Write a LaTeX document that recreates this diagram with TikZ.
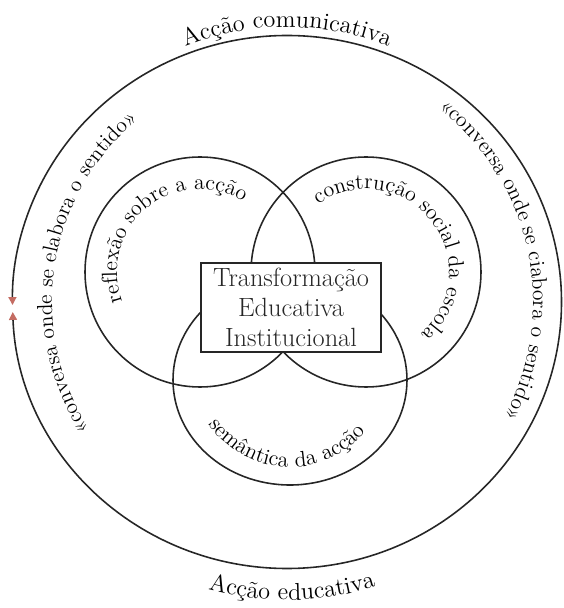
\documentclass[tikz,border=0pt]{standalone}
\usepackage{tikz}
\usetikzlibrary{arrows.meta,decorations.text}
\definecolor{setaV}{RGB}{196,108,98}
\colorlet{traco}{black!85}
\newcommand{\fonteA}{\fontsize{12.5}{14}\selectfont}
\newcommand{\fonteB}{\fontsize{12.3}{14}\selectfont}
\newcommand{\fonteC}{\fontsize{13.8}{16}\selectfont}
\newcommand{\rotuloArco}[5]{%
  \path[decorate,decoration={text along path,text align=center,text={#5}}]
    (#1) ++(#3:#2) arc[start angle=#3,end angle=#4,radius=#2];}
\tikzset{
  linha/.style={line width=0.9pt,draw=traco},
  caixa/.style={draw=traco,line width=0.9pt,fill=white,align=center,
    minimum width=3.6cm,minimum height=1.78cm,inner sep=2pt,
    font=\fontsize{15}{17}\selectfont},
}

\begin{document}
\begin{tikzpicture}[>=Latex,text=black!85]
\useasboundingbox (-5.74,-6.12) rectangle (5.52,6.04);
\draw[linha,-{Triangle[length=4.5pt,width=4.5pt,color=setaV]}] (5.49,0) arc[start angle=0,end angle=180.65,x radius=5.49,y radius=5.33];
\draw[linha,-{Triangle[length=4.5pt,width=4.5pt,color=setaV]}] (5.49,0) arc[start angle=0,end angle=-177.85,x radius=5.49,y radius=5.33];
\draw[linha] (-1.74,0.6) circle[radius=2.3];
\draw[linha] (1.58,0.6) circle[radius=2.3];
\draw[linha] (0.06,-1.56) ellipse[x radius=2.34,y radius=2.1];
\node[caixa] (nucleo) at (0.08,-0.11) {Transformação\\Educativa\\Institucional};
\rotuloArco{-1.74,0.6}{1.66}{215}{44}{|\fonteA|reflexão sobre a acção}
\rotuloArco{1.58,0.6}{1.66}{140}{-63}{|\fonteA|construção social da escola}
\rotuloArco{0.06,-1.32}{1.98}{205}{330}{|\fonteA|semântica da acção}
\rotuloArco{0,0}{4.7}{222}{120}{|\fonteB|«conversa onde se elabora o sentido»}
\rotuloArco{0,0}{4.92}{63}{-39}{|\fonteB|«conversa onde se ciabora o sentido»}
\rotuloArco{0,0}{5.5}{120}{60}{|\fonteC|Acção comunicativa}
\rotuloArco{0,0}{5.96}{245}{297}{|\fonteC|Acção educativa}
\end{tikzpicture}
\end{document}
